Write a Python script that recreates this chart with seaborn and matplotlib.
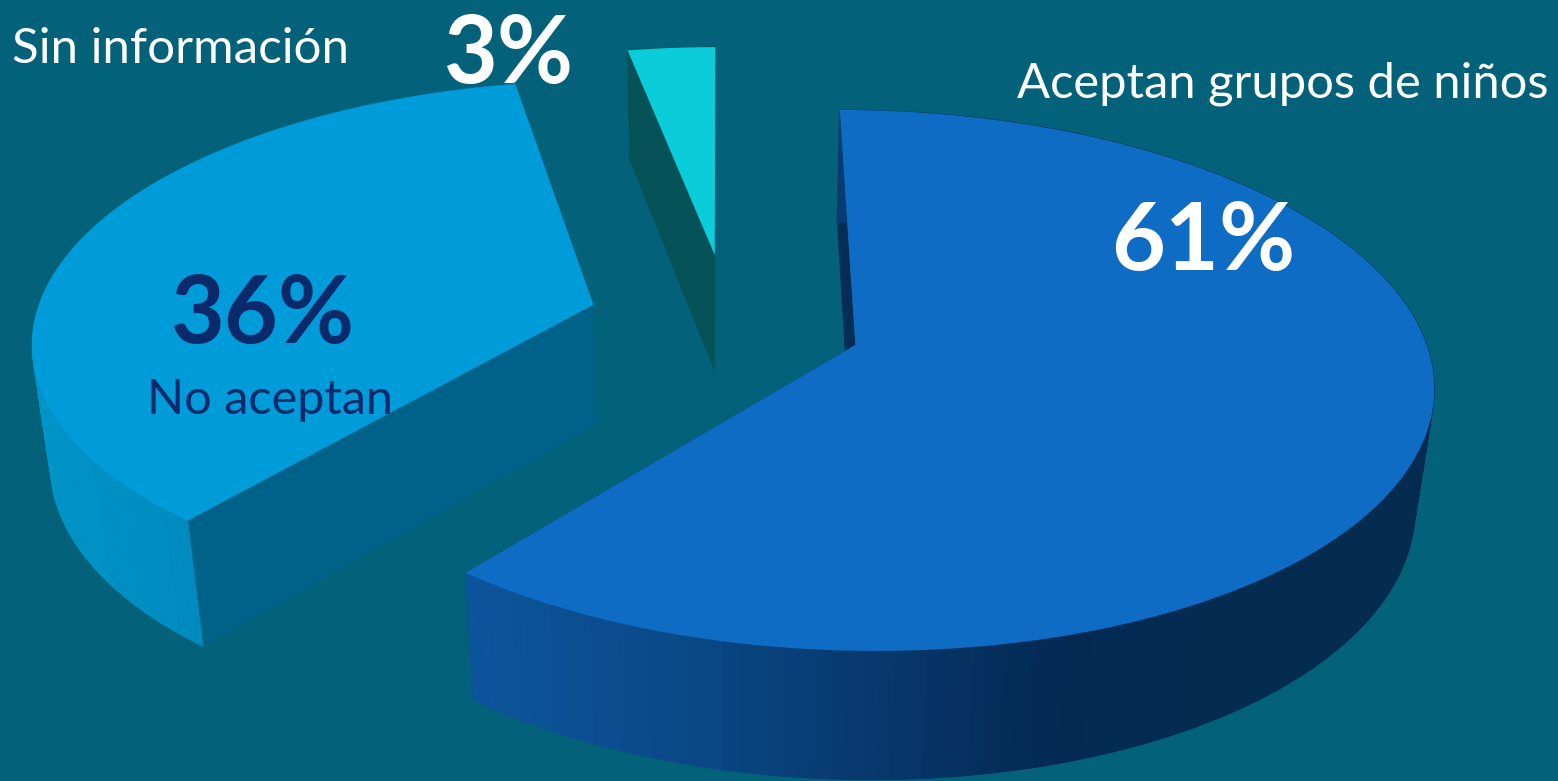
import matplotlib
matplotlib.use('Agg')
import matplotlib.pyplot as plt
from matplotlib.transforms import Transform
import numpy as np
import seaborn as sns

# chart data
categories = ['Aceptan grupos de niños', 'No aceptan', 'Sin información']
shares = [61, 36, 3]
share_labels = ['61%', '36%', '3%']

BACKGROUND = '#03617A'
TOP_COLORS = ['#0E6CC4', '#009BD9', '#0BCDDA']
FACE_COLORS = ['#052D55', '#006288', '#055358']
WALL_STOPS = [['#0C559C', '#0A4A8A', '#083A70', '#042A55', '#042C50', '#042C50'],
              ['#0095C8', '#0085BA', '#007EB0'],
              ['#055358', '#055358']]
EXPLODE = [0.25, 0.23, 0.27]
RADIUS = [1.0, 0.99, 0.96]
NUDGE = [(0.0, 0.0), (-0.005, 0.012), (0.014, 0.0)]
DRAW_ORDER = [2, 1, 0]

# camera of the 3d look, fitted by eye, output in figure pixels
X0, Y0 = 721, 322.6
A, B = 565, 260
K = 0.13
M = 0.027
C = 123


def project(x, y, z=0.0):
    w = 1 + K * y - M * z
    return X0 + A * x / w, Y0 - (B * y + C * z) / w


class PieProjection(Transform):
    input_dims = 2
    output_dims = 2

    def transform_non_affine(self, values):
        px, py = project(values[:, 0], values[:, 1])
        return np.column_stack([px, py])


def draw_side(ax, wedge, face_color, stops, zorder):
    cx, cy = wedge.center
    r = wedge.r
    angles = np.radians(np.linspace(wedge.theta1, wedge.theta2, 160))
    x = cx + r * np.cos(angles)
    y = cy + r * np.sin(angles)
    tx, ty = project(x, y)
    bx, by = project(x, y, -1.0)

    # the two cut faces
    for i in (0, -1):
        ax_top = project(cx, cy)
        ax_bot = project(cx, cy, -1.0)
        ax.fill([ax_top[0], tx[i], bx[i], ax_bot[0]], [ax_top[1], ty[i], by[i], ax_bot[1]],
                color=face_color, lw=0, zorder=zorder)

    # outer wall, shaded by screen x
    palette = sns.blend_palette(stops, n_colors=256)
    left, right = min(tx.min(), bx.min()), max(tx.max(), bx.max())
    for i in range(len(angles) - 1):
        mid = (tx[i] + tx[i + 1]) / 2
        color = palette[int(255 * (mid - left) / (right - left))]
        ax.fill([tx[i], tx[i + 1], bx[i + 1], bx[i]], [ty[i], ty[i + 1], by[i + 1], by[i]],
                facecolor=color, edgecolor=color, lw=0.6, zorder=zorder)


sns.set_theme(style='white')
plt.rcParams['font.family'] = ['Lato', 'DejaVu Sans']

fig = plt.figure(figsize=(15.58, 7.81), dpi=100, facecolor=BACKGROUND)
ax = fig.add_axes([0, 0, 1, 1])

wedges, _ = ax.pie(shares, explode=EXPLODE, colors=TOP_COLORS, startangle=90, counterclock=False,
                   wedgeprops={'linewidth': 0})

ax.set_aspect('auto')
ax.set_xlim(0, 1558)
ax.set_ylim(781, 0)
ax.axis('off')

projection = PieProjection() + ax.transData
for rank, i in enumerate(DRAW_ORDER):
    wedge = wedges[i]
    wedge.set_radius(RADIUS[i])
    wedge.set_center((wedge.center[0] + NUDGE[i][0], wedge.center[1] + NUDGE[i][1]))
    draw_side(ax, wedge, FACE_COLORS[i], WALL_STOPS[i], 2 + 2 * rank)
    wedge.set_transform(projection)
    wedge.set_zorder(3 + 2 * rank)
    wedge.set_clip_on(False)

ax.text(1017, 98, categories[0], color='white', fontsize=35.2, zorder=20)
ax.text(147, 414, categories[1], color='#0B2A6B', fontsize=35, zorder=20)
ax.text(12, 63, categories[2], color='white', fontsize=35.5, zorder=20)
ax.text(1111, 270, share_labels[0], color='white', fontsize=67, fontweight='bold', zorder=20)
ax.text(171, 343, share_labels[1], color='#0B2A6B', fontsize=67, fontweight='bold', zorder=20)
ax.text(444, 83, share_labels[2], color='white', fontsize=67, fontweight='bold', zorder=20)

fig.savefig('out.png', dpi=100, facecolor=BACKGROUND)
